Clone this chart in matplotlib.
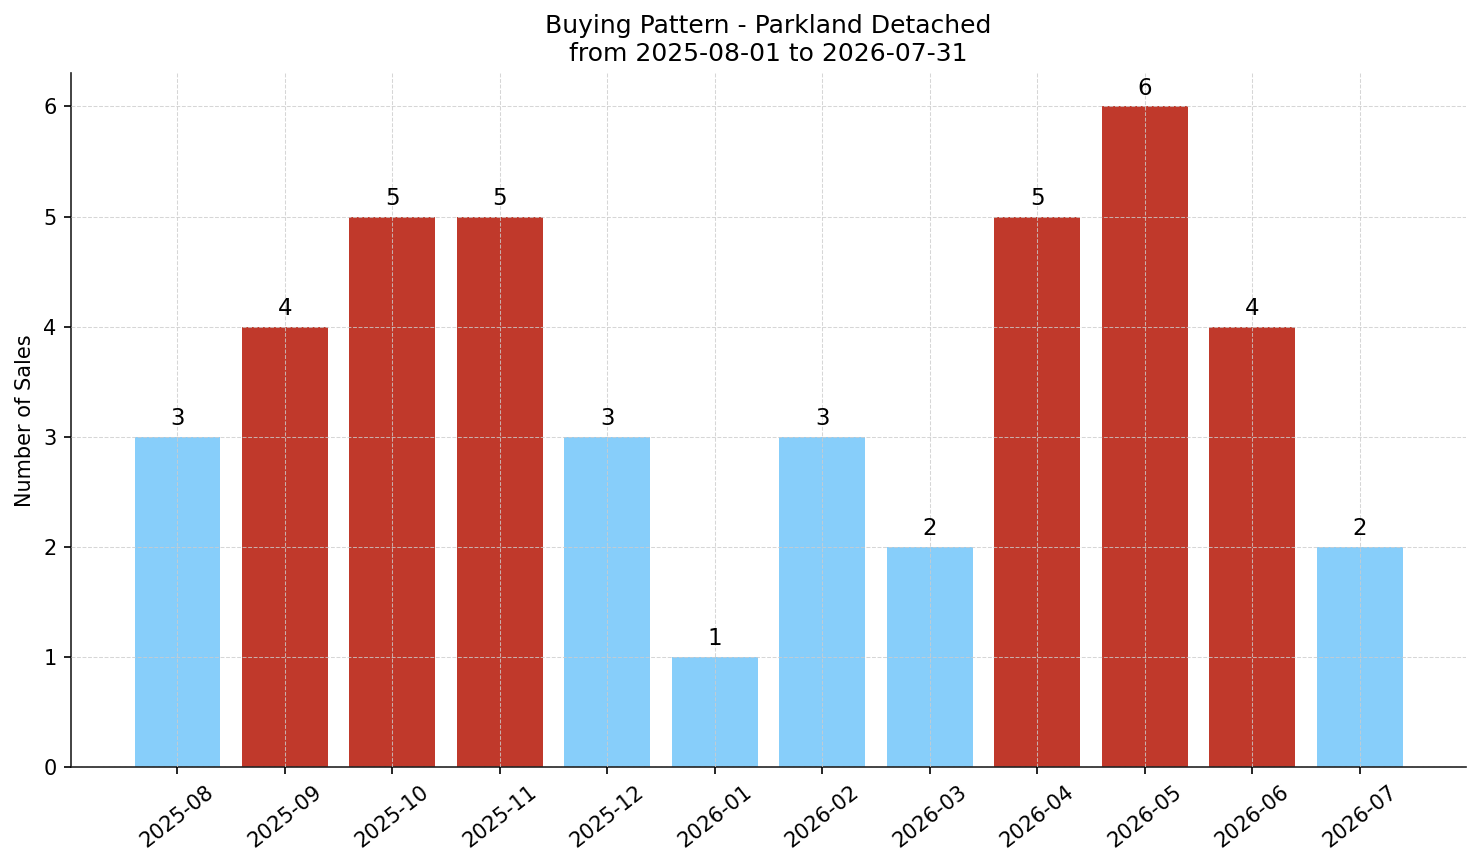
import matplotlib
matplotlib.use("Agg")
import matplotlib.pyplot as plt

# data
months = ["2025-08", "2025-09", "2025-10", "2025-11", "2025-12", "2026-01",
          "2026-02", "2026-03", "2026-04", "2026-05", "2026-06", "2026-07"]
sales = [3, 4, 5, 5, 3, 1, 3, 2, 5, 6, 4, 2]
hot = [False, True, True, True, False, False, False, False, True, True, True, False]

colors = ["#C0392B" if h else "#87CEFA" for h in hot]

fig, ax = plt.subplots(figsize=(1481 / 150, 863 / 150), dpi=150)
bars = ax.bar(months, sales, color=colors, width=0.8)

for b, v in zip(bars, sales):
    ax.text(b.get_x() + b.get_width() / 2, v + 0.06, str(v),
            ha="center", va="bottom", fontsize=11)

ax.set_ylim(0, 6.3)
ax.set_ylabel("Number of Sales", fontsize=10)
ax.set_title("Buying Pattern - Parkland Detached\nfrom 2025-08-01 to 2026-07-31", fontsize=12)
ax.grid(True, linestyle="--", color="#cccccc", linewidth=0.5, alpha=0.8)
ax.set_axisbelow(False)
ax.spines["top"].set_visible(False)
ax.spines["right"].set_visible(False)
ax.spines["left"].set_color("#222222")
ax.spines["bottom"].set_color("#222222")
ax.tick_params(axis="both", labelsize=10)
plt.setp(ax.get_xticklabels(), rotation=38)

plt.subplots_adjust(left=0.048, right=0.99, top=0.915, bottom=0.111)
fig.savefig("out.png", dpi=150)
